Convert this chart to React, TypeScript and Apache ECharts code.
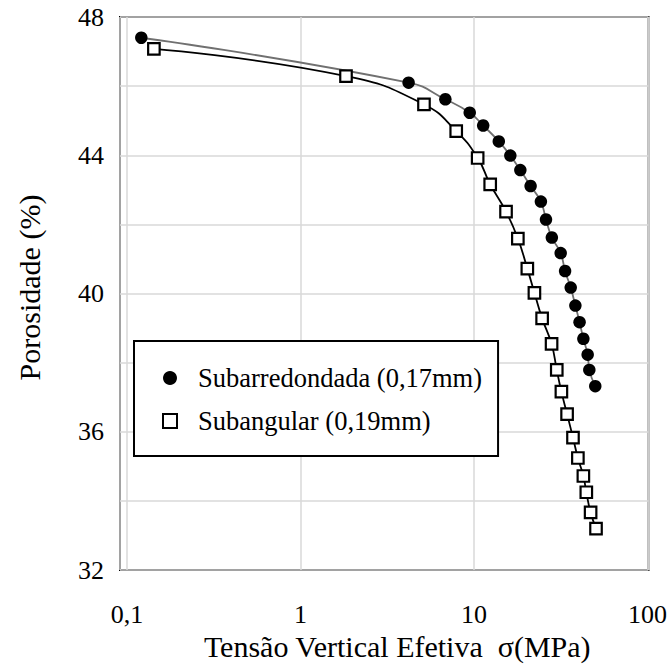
import React, { useEffect, useRef } from "react";
import * as echarts from "echarts";

const roundStress = [0.121, 4.2, 6.84, 9.45, 11.3, 13.9, 16.2, 18.5, 21.2, 24.3, 26.0, 28.1, 31.6, 33.5, 36.1, 38.4, 40.6, 42.7, 45.2, 46.2, 50.0];
const roundPorosity = [47.4, 46.1, 45.62, 45.23, 44.86, 44.4, 43.99, 43.57, 43.11, 42.66, 42.14, 41.62, 41.17, 40.65, 40.17, 39.65, 39.17, 38.69, 38.23, 37.79, 37.32];
const angStress = [0.143, 1.83, 5.15, 7.9, 10.5, 12.4, 15.3, 17.9, 20.3, 22.3, 24.7, 28.0, 30.0, 31.9, 34.4, 37.2, 39.7, 42.7, 44.4, 47.0, 50.5];
const angPorosity = [47.08, 46.29, 45.47, 44.7, 43.92, 43.16, 42.37, 41.59, 40.72, 40.02, 39.28, 38.54, 37.79, 37.16, 36.51, 35.83, 35.24, 34.72, 34.25, 33.67, 33.2];
const seriesNames = ["Subarredondada (0,17mm)", "Subangular (0,19mm)"];
const xTitle = "Tensão Vertical Efetiva  σ(MPa)";
const yTitle = "Porosidade (%)";
// axis extent (the frame sits slightly outside the 0.1 and 100 decades)
const xMin = 0.0912;
const xMax = 101.3;

const FONT = "Liberation Serif";

const isDecade = (v: number) => {
  const l = Math.log10(v);
  return Math.abs(l - Math.round(l)) < 1e-6;
};

export default function App() {
  const ref = useRef<HTMLDivElement>(null);
  useEffect(() => {
    if (!ref.current) return;
    const chart = echarts.init(ref.current, null, { renderer: "svg" });
    const zip = (xs: number[], ys: number[]) => xs.map((x, i) => [x, ys[i]]);
    chart.setOption({
      animation: false,
      backgroundColor: "#ffffff",
      textStyle: { fontFamily: FONT, color: "#000" },
      grid: {
        left: 120,
        right: 14,
        top: 17,
        bottom: 98,
        show: true,
        borderColor: "#000",
        borderWidth: 2,
        backgroundColor: "transparent",
      },
      xAxis: {
        type: "log",
        logBase: 10,
        min: xMin,
        max: xMax,
        name: xTitle,
        nameLocation: "middle",
        nameGap: 56,
        nameTextStyle: { fontFamily: FONT, fontSize: 30, color: "#000", padding: [0, 0, 0, 26] },
        axisLine: { show: false },
        axisTick: { show: false },
        axisLabel: {
          fontFamily: FONT,
          fontSize: 26,
          color: "#000",
          margin: 31,
          showMinLabel: true,
          showMaxLabel: true,
          formatter: (v: number) => (isDecade(v) ? String(Math.pow(10, Math.round(Math.log10(v)))).replace(".", ",") : ""),
        },
        splitLine: { show: true, lineStyle: { color: "#d9d9d9", width: 1.5 } },
      },
      yAxis: {
        type: "value",
        min: 32,
        max: 48,
        interval: 2,
        name: yTitle,
        nameLocation: "middle",
        nameGap: 76,
        nameTextStyle: { fontFamily: FONT, fontSize: 30, color: "#000", padding: [0, 0, 0, 12] },
        axisLine: { show: false },
        axisTick: { show: false },
        axisLabel: {
          fontFamily: FONT,
          fontSize: 26,
          color: "#000",
          margin: 16,
          formatter: (v: number) => (v % 4 === 0 ? String(v) : ""),
        },
        splitLine: { show: true, lineStyle: { color: "#d9d9d9", width: 1.5 } },
      },
      legend: {
        orient: "vertical",
        left: 134,
        top: 341,
        backgroundColor: "#fff",
        borderColor: "#000",
        borderWidth: 2,
        borderRadius: 0,
        padding: [22, 16, 20, 28],
        itemGap: 13,
        itemWidth: 14,
        itemHeight: 14,
        textStyle: { fontFamily: FONT, fontSize: 26.5, lineHeight: 30, color: "#000", padding: [0, 0, 0, 16] },
        data: [
          { name: seriesNames[0], icon: "circle", itemStyle: { color: "#000", borderWidth: 0 } },
          { name: seriesNames[1], icon: "rect", itemStyle: { color: "#fff", borderColor: "#000", borderWidth: 2 } },
        ],
      },
      series: [
        {
          name: seriesNames[0],
          type: "line",
          smooth: true,
          data: zip(roundStress, roundPorosity),
          symbol: "circle",
          symbolSize: 12.5,
          lineStyle: { color: "#707070", width: 1.8 },
          itemStyle: { color: "#000", borderWidth: 0 },
          z: 3,
        },
        {
          name: seriesNames[1],
          type: "line",
          smooth: true,
          data: zip(angStress, angPorosity),
          symbol: "rect",
          symbolSize: 11.5,
          lineStyle: { color: "#000", width: 1.8 },
          itemStyle: { color: "#fff", borderColor: "#000", borderWidth: 2.2 },
          z: 4,
        },
      ],
    });
    return () => chart.dispose();
  }, []);
  return (
    <div
      ref={ref}
      style={{ position: "fixed", left: 0, top: 0, width: 670, height: 668, background: "#fff" }}
    />
  );
}
